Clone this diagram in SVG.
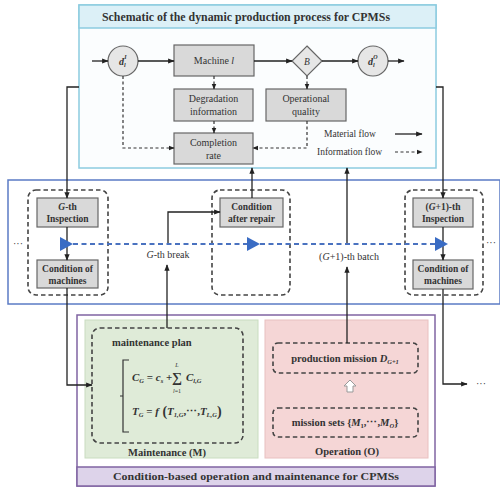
<svg xmlns="http://www.w3.org/2000/svg" width="500" height="489" viewBox="0 0 500 489">
<defs>
<marker id="ah" viewBox="0 0 10 10" refX="9" refY="5" markerWidth="5" markerHeight="5" orient="auto"><path d="M0,1 L10,5 L0,9 z" fill="#222"/></marker>
<style>
text{font-family:"Liberation Serif","Times New Roman",serif;fill:#333}
.b{font-weight:bold}
.i{font-style:italic}
.box{fill:#d9d9d9;stroke:#666;stroke-width:1.2}
.ln{fill:none;stroke:#222;stroke-width:1.3}
.arr{fill:none;stroke:#222;stroke-width:1.3;marker-end:url(#ah)}
.dsh{fill:none;stroke:#333;stroke-width:1.2;stroke-dasharray:3 2.5}
.dsha{fill:none;stroke:#333;stroke-width:1.2;stroke-dasharray:3 2.5;marker-end:url(#ah)}
.grp{fill:none;stroke:#444;stroke-width:1.6;stroke-dasharray:4.5 3}
.t10{font-size:10px}
.t9{font-size:9.5px}
.tri{fill:#3a6cc4}
</style>
</defs>

<!-- top panel -->
<g id="top-panel">
<rect x="79" y="5" width="357" height="163" fill="#fbfdfe" stroke="#8ccbe0" stroke-width="1.5"/>
<rect x="79" y="5" width="357" height="23" fill="#dcf0f7" stroke="#8ccbe0" stroke-width="1.5"/>
<text x="246" y="21" class="b" font-size="11.5" text-anchor="middle" textLength="288" lengthAdjust="spacingAndGlyphs">Schematic of the dynamic production process for CPMSs</text>
</g>
<g id="node-dI">
<circle cx="123" cy="61" r="15" fill="#e6e6e6" stroke="#666" stroke-width="1.2"/>
<text x="119" y="65" class="b i" font-size="10">d<tspan font-size="6" dy="2">l</tspan><tspan font-size="6" dx="-1.5" dy="-8">I</tspan></text>
</g>
<g id="node-machine">
<rect x="174" y="45" width="80" height="31" class="box"/>
<text x="214" y="64" class="t10" text-anchor="middle">Machine <tspan class="i">l</tspan></text>
</g>
<g id="node-B">
<path d="M307,46 L322,61 L307,76 L292,61 Z" fill="#e6e6e6" stroke="#666" stroke-width="1.2"/>
<text x="307" y="65" class="i" font-size="9.5" text-anchor="middle">B</text>
</g>
<g id="node-dO">
<circle cx="373" cy="61" r="15" fill="#e6e6e6" stroke="#666" stroke-width="1.2"/>
<text x="368" y="65" class="b i" font-size="10">d<tspan font-size="6" dy="2">l</tspan><tspan font-size="6" dx="-1.5" dy="-8">O</tspan></text>
</g>
<g id="node-degradation">
<rect x="174" y="89" width="79" height="32" class="box"/>
<text x="213.5" y="102" class="t10" text-anchor="middle">Degradation</text>
<text x="213.5" y="115" class="t10" text-anchor="middle">information</text>
</g>
<g id="node-opquality">
<rect x="266" y="89" width="80" height="32" class="box"/>
<text x="306" y="102" class="t10" text-anchor="middle">Operational</text>
<text x="306" y="115" class="t10" text-anchor="middle">quality</text>
</g>
<g id="node-completion">
<rect x="174" y="133" width="79" height="31" class="box"/>
<text x="213.5" y="146" class="t10" text-anchor="middle">Completion</text>
<text x="213.5" y="159" class="t10" text-anchor="middle">rate</text>
</g>
<g id="legend">
<text x="324" y="137" class="t9">Material flow</text>
<line x1="395" y1="134" x2="422" y2="134" class="arr"/>
<text x="317" y="155" class="t9">Information flow</text>
<line x1="395" y1="152" x2="422" y2="152" class="dsha"/>
</g>

<!-- middle panel -->
<g id="middle-panel">
<rect x="8" y="180" width="492" height="124" fill="#fff" stroke="#5b7bc5" stroke-width="1.5"/>
</g>
<g id="group-G">
<rect x="28" y="190" width="80" height="105" rx="8" class="grp"/>
</g>
<g id="group-repair">
<rect x="212" y="190" width="78" height="105" rx="8" class="grp"/>
</g>
<g id="group-G1">
<rect x="405" y="190" width="78" height="105" rx="8" class="grp"/>
</g>
<g id="node-G-insp">
<rect x="37" y="198" width="61" height="29" class="box"/>
<text x="67.5" y="210" class="b" font-size="9.5" text-anchor="middle"><tspan class="i">G</tspan>-th</text>
<text x="67.5" y="222" class="b" font-size="9.5" text-anchor="middle">Inspection</text>
</g>
<g id="node-G-cond">
<rect x="37" y="260" width="61" height="28" class="box"/>
<text x="67.5" y="272" class="b" font-size="9.5" text-anchor="middle">Condition of</text>
<text x="67.5" y="284" class="b" font-size="9.5" text-anchor="middle">machines</text>
</g>
<g id="node-repair">
<rect x="220" y="198" width="63" height="29" class="box"/>
<text x="251.5" y="210" class="b" font-size="9.5" text-anchor="middle">Condition</text>
<text x="251.5" y="222" class="b" font-size="9.5" text-anchor="middle">after repair</text>
</g>
<g id="node-G1-insp">
<rect x="413" y="198" width="60" height="29" class="box"/>
<text x="443" y="210" class="b" font-size="9.5" text-anchor="middle">(<tspan class="i">G</tspan>+1)-th</text>
<text x="443" y="222" class="b" font-size="9.5" text-anchor="middle">Inspection</text>
</g>
<g id="node-G1-cond">
<rect x="413" y="260" width="60" height="29" class="box"/>
<text x="443" y="272" class="b" font-size="9.5" text-anchor="middle">Condition of</text>
<text x="443" y="284" class="b" font-size="9.5" text-anchor="middle">machines</text>
</g>
<g id="middle-labels">
<text x="13" y="247" font-size="10">···</text>
<text x="486" y="246" font-size="10">···</text>
<text x="168" y="258" font-size="10" text-anchor="middle"><tspan class="i">G</tspan>-th break</text>
<text x="349" y="260" font-size="10" text-anchor="middle">(<tspan class="i">G</tspan>+1)-th batch</text>
</g>

<!-- bottom panel -->
<g id="bottom-panel">
<rect x="77" y="315" width="358" height="171" fill="#fff" stroke="#8064a2" stroke-width="1.5"/>
<rect x="77" y="467" width="358" height="19" fill="#ddd3ea" stroke="#8064a2" stroke-width="1.5"/>
<text x="256" y="480" class="b" font-size="11" text-anchor="middle" textLength="286" lengthAdjust="spacingAndGlyphs">Condition-based operation and maintenance for CPMSs</text>
</g>
<g id="node-maintenance">
<rect x="85" y="320" width="173" height="138" fill="#dfebd8" stroke="#c9dcc0"/>
<rect x="92" y="328" width="151" height="115" rx="8" class="grp"/>
<text x="112" y="346" class="b" font-size="10.5">maintenance plan</text>
<path d="M129,360 L123,360 L123,432 L129,432 M123,396 L120,396" fill="none" stroke="#333" stroke-width="1.2"/>
<text x="132" y="381" class="b i" font-size="11">C<tspan font-size="6.5" dy="2">G</tspan><tspan dy="-2" font-style="normal"> = </tspan>c<tspan font-size="6.5" dy="2">s</tspan><tspan dy="-2" font-style="normal"> + </tspan></text>
<text x="177" y="382" font-size="14" font-weight="bold" text-anchor="middle">∑</text>
<text x="177" y="367" class="i" font-size="6" text-anchor="middle">L</text>
<text x="177" y="393" font-size="6" text-anchor="middle"><tspan class="i">l</tspan>=1</text>
<text x="186" y="381" class="b i" font-size="11">C<tspan font-size="6.5" dy="2">l,G</tspan></text>
<text x="132" y="415" class="b i" font-size="11">T<tspan font-size="6.5" dy="2">G</tspan><tspan dy="-2" font-style="normal"> = </tspan>f<tspan font-style="normal" font-size="14" dy="1"> (</tspan><tspan dy="-1">T</tspan><tspan font-size="6.5" dy="2">1,G</tspan><tspan dy="-2" font-style="normal">,⋯,</tspan>T<tspan font-size="6.5" dy="2">L,G</tspan><tspan font-style="normal" font-size="14" dy="-1">)</tspan></text>
<text x="167" y="456" class="b" font-size="10.5" text-anchor="middle">Maintenance (M)</text>
</g>
<g id="node-operation">
<rect x="265" y="320" width="163" height="138" fill="#f5d6d6" stroke="#e8c0c0"/>
<rect x="273" y="343" width="145" height="30" rx="5" class="grp"/>
<text x="345" y="362" class="b" font-size="10.5" text-anchor="middle">production mission <tspan class="i">D</tspan><tspan class="i" font-size="6.5" dy="2">G+1</tspan></text>
<path d="M350,380 L356,386 L353,386 L353,392 L347,392 L347,386 L344,386 Z" fill="#fff" stroke="#999" stroke-width="1"/>
<rect x="273" y="408" width="145" height="29" rx="5" class="grp"/>
<text x="345" y="426" class="b" font-size="10.5" text-anchor="middle">mission sets {<tspan class="i">M</tspan><tspan font-size="6.5" dy="2">1</tspan><tspan dy="-2">,⋯,</tspan><tspan class="i">M</tspan><tspan class="i" font-size="6.5" dy="2">O</tspan><tspan dy="-2">}</tspan></text>
<text x="347" y="455" class="b" font-size="10.5" text-anchor="middle">Operation (O)</text>
</g>

<!-- connectors -->
<g id="connectors">
<line x1="92" y1="61" x2="108" y2="61" class="arr"/>
<line x1="138" y1="61" x2="174" y2="61" class="arr"/>
<line x1="254" y1="61" x2="292" y2="61" class="arr"/>
<line x1="322" y1="61" x2="358" y2="61" class="arr"/>
<line x1="388" y1="61" x2="404" y2="61" class="arr"/>
<line x1="214" y1="76" x2="214" y2="89" class="dsha"/>
<line x1="214" y1="121" x2="214" y2="133" class="dsha"/>
<line x1="307" y1="76" x2="307" y2="89" class="dsha"/>
<polyline points="123,76 123,148 174,148" class="dsha"/>
<polyline points="307,121 307,148 253,148" class="dsha"/>

<polyline points="79,87 67,87 67,198" class="arr"/>
<line x1="67" y1="227" x2="67" y2="260" class="arr"/>
<polyline points="67,288 67,385 92,385" class="arr"/>
<polyline points="436,87 443,87 443,198" class="arr"/>
<line x1="443" y1="227" x2="443" y2="260" class="arr"/>
<polyline points="443,289 443,384 467,384" class="arr"/>
<text x="476" y="387" font-size="10">···</text>

<line x1="252" y1="198" x2="252" y2="168" class="arr"/>
<polyline points="168,244 168,212 220,212" class="arr"/>
<line x1="167" y1="328" x2="167" y2="265" class="arr"/>
<line x1="347" y1="244" x2="347" y2="168" class="arr"/>
<line x1="347" y1="343" x2="347" y2="267" class="arr"/>

<line x1="73" y1="244" x2="435" y2="244" stroke="#4a72c0" stroke-width="2" stroke-dasharray="5 3.5"/>
<path d="M60,237 L73,244 L60,251 Z" class="tri"/>
<path d="M247,237 L260,244 L247,251 Z" class="tri"/>
<path d="M435,237 L448,244 L435,251 Z" class="tri"/>
</g>
</svg>
